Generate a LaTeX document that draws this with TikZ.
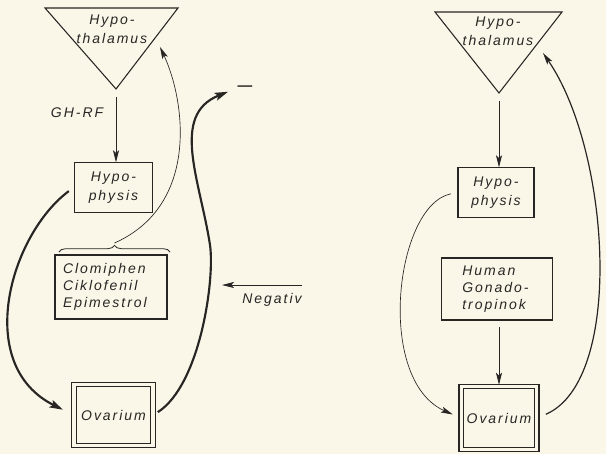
\documentclass[tikz,border=0pt]{standalone}
\usepackage{fontspec}
\setmainfont{Liberation Sans}[LetterSpace=14]
\usepackage{tikz}
\usetikzlibrary{arrows.meta,shapes,positioning,decorations.pathreplacing}
\definecolor{paper}{RGB}{250,247,233}
\definecolor{ink}{RGB}{40,38,36}
\tikzset{
  lbl/.style={text=ink, font=\itshape\fontsize{10.5}{14}\selectfont, align=center},
  box/.style={lbl, draw=ink, rectangle, line width=0.8pt, inner sep=1pt},
  ovbox/.style={box, double=paper, double distance=2.6pt},
  fwd/.style={draw=ink, line width=0.6pt, -{Stealth[length=9pt,width=4.5pt,inset=2pt]}},
  thinfwd/.style={fwd, line width=0.5pt},
  medfwd/.style={fwd, line width=0.9pt},
  heavyfwd/.style={fwd, line width=1.6pt, -{Stealth[length=10pt,width=6pt,inset=2pt]}},
}
\begin{document}
\begin{tikzpicture}[x=0.75pt, y=-0.75pt]
        \fill[paper] (0,0) rectangle (606,454);
        \useasboundingbox (0,0) rectangle (606,454);

        \coordinate (apexL) at (116,89);
        \draw[ink, line width=0.8pt] (45,8) -- (178,8) -- (apexL) -- cycle;
        \node[lbl] (hypL) at (112,29) {Hypo-\\thalamus};
        \node[box, minimum width=59pt, minimum height=37pt] (hypoL) at (113.5,187.5) {Hypo-\\physis};
        \node[box, minimum width=84pt, minimum height=48pt, text width=72pt, align=left, font=\itshape\fontsize{10.5}{13}\selectfont] (clomL) at (111,287) {Clomiphen\\Ciklofenil\\Epimestrol};
        \node[ovbox, minimum width=59pt, minimum height=46pt] (ovL) at (113.5,415) {Ovarium};
        \draw[ink, line width=0.6pt, decorate, decoration={brace, amplitude=5pt}] (59,252) -- (170,252);
        \coordinate (braceL) at (114.5,243);
        \coordinate (inL) at (160,47);
        \node[lbl, font=\bfseries\fontsize{11}{13}\selectfont, inner sep=0pt] (minus) at (245,88) {---};
        \coordinate (negStart) at (302,285);
        \coordinate (negEnd) at (222,285);
        \node[lbl] (negLbl) at (272,300) {Negativ};

        \draw[fwd, shorten <=6pt] (apexL) -- (apexL |- hypoL.north) node[lbl, pos=0.32, left=6pt] {GH-RF};
        \draw[heavyfwd, shorten <=4.5pt, shorten >=9pt] (hypoL.west) .. controls (10,235) and (-27,365) .. (ovL.west);
        \draw[heavyfwd, shorten <=4pt, shorten >=7.5pt] (ovL.east) .. controls (200,385) and (215,280) .. (210,245) .. controls (200,180) and (170,115) .. (minus.west);
        \draw[thinfwd] (braceL) .. controls (200,205) and (185,100) .. (inL);
        \draw[fwd] (negStart) -- (negEnd);

        \coordinate (apexR) at (499,93);
        \draw[ink, line width=0.8pt] (435,12) -- (562,12) -- (apexR) -- cycle;
        \node[lbl] (hypR) at (498,31) {Hypo-\\thalamus};
        \node[box, minimum width=57pt, minimum height=37pt] (hypoR) at (496,192.5) {Hypo-\\physis};
        \node[box, minimum width=83pt, minimum height=46.5pt, text width=52pt, align=left, font=\itshape\fontsize{10.5}{13}\selectfont] (hgR) at (497,289) {Human\\Gonado-\\tropinok};
        \node[ovbox, minimum width=56.6pt, minimum height=47pt] (ovR) at (499,418) {Ovarium};
        \coordinate (inR) at (543,53);

        \draw[fwd, shorten <=6pt] (apexR) -- (apexR |- hypoR.north);
        \draw[fwd, shorten <=5pt, shorten >=1pt] (hgR.south -| ovR.north) -- (ovR.north);
        \draw[thinfwd, shorten <=5pt, shorten >=6.5pt] (hypoR.west) .. controls (395,205) and (375,380) .. (ovR.west);
        \draw[medfwd, shorten <=7pt] (ovR.east) .. controls (625,380) and (610,150) .. (inR);
    \end{tikzpicture}
\end{document}
